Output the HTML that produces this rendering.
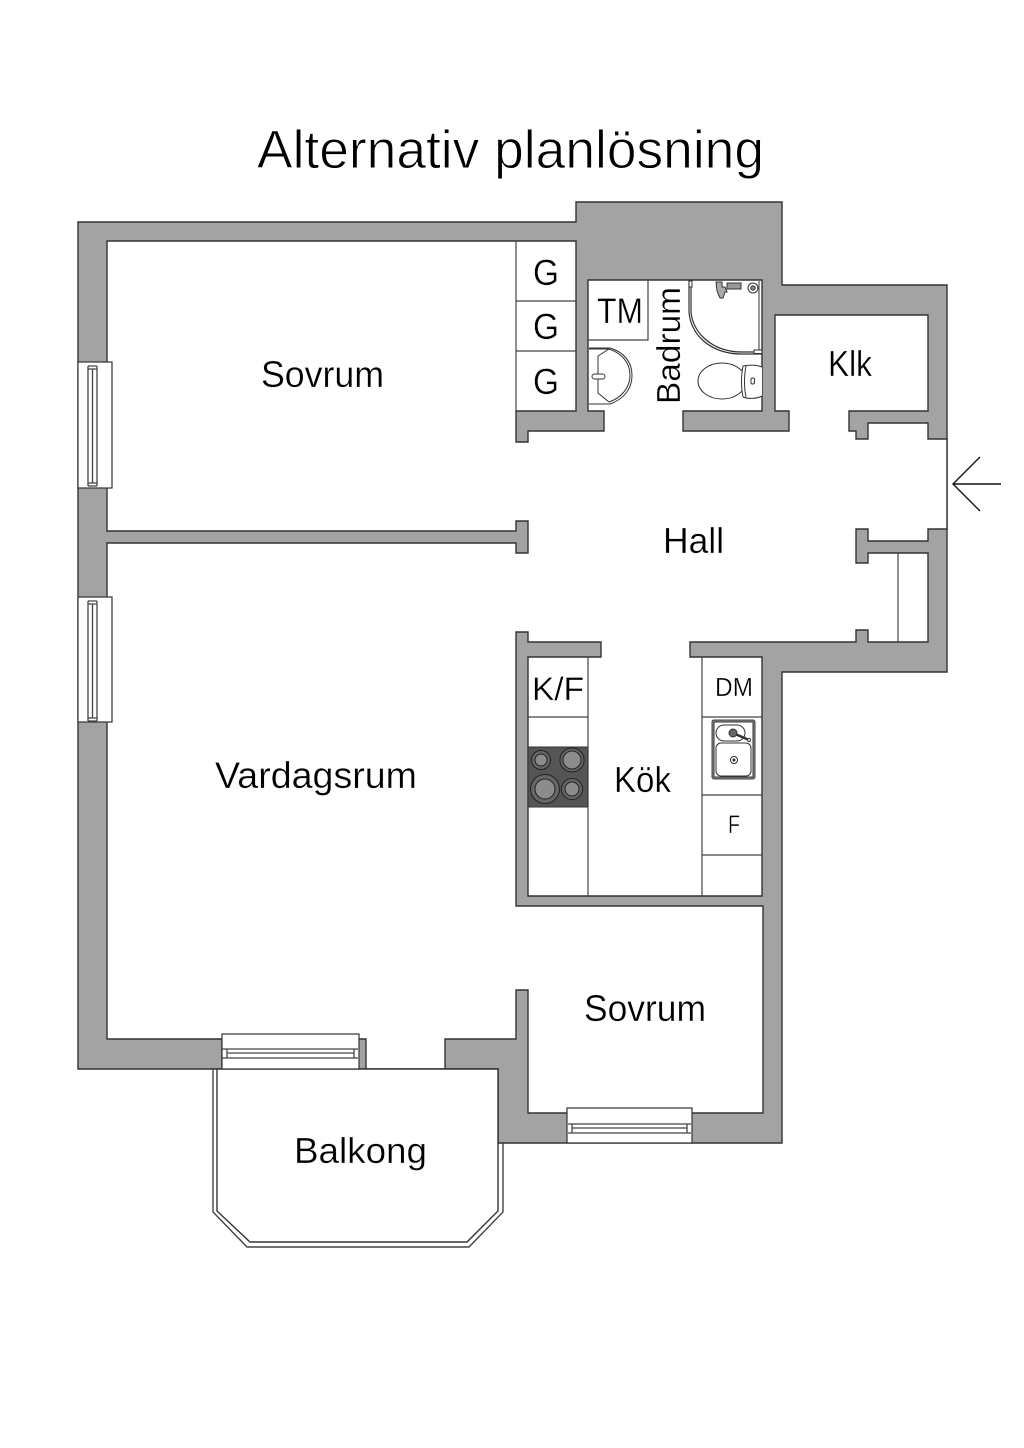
<!DOCTYPE html>
<html><head><meta charset="utf-8"><style>
html,body{margin:0;padding:0;background:#fff}
svg{display:block}
text{font-family:"Liberation Sans",sans-serif;fill:#000;stroke:#fff;stroke-width:.3}
</style></head><body>
<svg width="1024" height="1448" viewBox="0 0 1024 1448" xmlns="http://www.w3.org/2000/svg">
<rect width="1024" height="1448" fill="#fff" style="stroke:none"/>
<!-- Balcony -->
<path d="M213,1069V1212L247,1247H469L503,1212V1143" fill="#fff" stroke="#444" stroke-width="1.4"/>
<!-- Outer walls -->
<path d="M78,222H576V202H782V285H947V672H782V1143H498V1069H78Z" fill="#a3a3a3" stroke="#333" stroke-width="1.4"/>
<!-- Interior -->
<path d="M107,241H576V411H516V442H528V431H604V411H588V280H762V411H683V431H789V411H775V315H928V411H849V431H856V439H868V423H928V439H947V529H928V541H868V529H856V563H868V553H928V642H868V630H856V642H690V657H762V896H528V657H601V642H528V632H516V906H763V1113H528V990H516V1039H445V1069H366V1039H358V1069H222V1039H107Z" fill="#fff" stroke="#333" stroke-width="1.4"/>
<!-- Balcony inner -->
<path d="M217,1069H498V1211L467,1242H250L217,1211Z" fill="#fff" stroke="#333" stroke-width="1.4"/>
<!-- Partition -->
<path d="M107,531H516V521H528V553H516V543H107" fill="#a3a3a3" stroke="#333" stroke-width="1.4"/>
<rect x="105" y="532" width="6" height="10" fill="#a3a3a3"/>
<!-- Closets -->
<g stroke="#444" stroke-width="1.2" fill="none">
<path d="M516,241V411M516,301H576M516,351H576"/>
<path d="M648,280V340H588"/>
<path d="M898,553V642"/>
<path d="M588,657V896M702,657V896M528,717H588M702,717H762M702,795H762M702,855H762"/>
</g>
<!-- Windows -->
<g fill="#fff" stroke="#333" stroke-width="1.2">
<rect x="78" y="362" width="34" height="126"/>
<path d="M88,366V486M97,366V486M92.500,369V483M88,366H97M88,369H97M88,483H97M88,486H97" fill="none" stroke="#444" stroke-width="1.3"/>
<rect x="78" y="597" width="34" height="125"/>
<path d="M88,601V721M97,601V721M92.500,604V718M88,601H97M88,604H97M88,718H97M88,721H97" fill="none" stroke="#444" stroke-width="1.3"/>
<rect x="222" y="1034" width="137" height="35"/>
<path d="M222,1049H358M222,1058H358M227,1053H354M227,1049V1058M354,1049V1058" fill="none" stroke="#444" stroke-width="1.3"/>
<rect x="567" y="1108" width="125" height="35"/>
<path d="M568,1124H691M568,1133H691M572,1128H687M572,1124V1133M687,1124V1133" fill="none" stroke="#444" stroke-width="1.3"/>
</g>
<!-- Stove -->
<rect x="528" y="747" width="60" height="60" fill="#555" stroke="#333"/>
<g stroke="#222" stroke-width="1">
<circle cx="541" cy="760" r="9.500" fill="#666"/><circle cx="541" cy="760" r="6" fill="#8c8c8c"/>
<circle cx="572" cy="760" r="12" fill="#666"/><circle cx="572" cy="760" r="9" fill="#8c8c8c"/>
<circle cx="545" cy="789" r="14.500" fill="#666"/><circle cx="545" cy="789" r="10" fill="#8c8c8c"/>
<circle cx="572" cy="789" r="10.500" fill="#666"/><circle cx="572" cy="789" r="7" fill="#8c8c8c"/>
</g>
<!-- Kitchen sink -->
<g fill="#fff" stroke="#333" stroke-width="1">
<rect x="712" y="720" width="43" height="59" rx="2" fill="#888" stroke="#444" stroke-width="1"/>
<rect x="714" y="722" width="39" height="55" fill="#fff"/>
<rect x="716" y="725" width="29" height="16" rx="8"/>
<rect x="716" y="743" width="35" height="33" rx="5"/>
<circle cx="734" cy="760" r="3.500"/><circle cx="734" cy="760" r="1" fill="#222"/>
<path d="M733,733L749,740" stroke="#333" stroke-width="2.400"/>
<circle cx="733" cy="733" r="4" fill="#666"/><circle cx="749" cy="740" r="1.500"/>
</g>
<!-- Bath fixtures -->
<g fill="none" stroke="#333" stroke-width="1">
<path d="M589,348H610C624,352 632,362 632,375C632,389 624,399 610,404H589"/>
<path d="M589,349H609C621,353 630,362 630,375C630,388 621,398 609,402"/>
<path d="M609,349L598,356V393L609,402"/>
<rect x="592" y="374" width="13" height="5" rx="2.500" fill="#fff"/>
<path d="M691,281V310C691,330 710,352 742,352H762" stroke-width="1.200"/>
<path d="M689,281V310C689,332 708,354 742,354H762" stroke-width="1.200"/>
<path d="M759,281V352"/>
<rect x="689" y="281" width="3" height="6" fill="#fff"/>
<rect x="754" y="350" width="8" height="3.500" fill="#fff"/>
<path d="M716,282h6v5h3l2,5h-2l-2,6h-3l-3,-7z" fill="#aaa"/>
<rect x="727" y="283" width="14" height="6" fill="#999"/>
<circle cx="753" cy="288" r="5"/><circle cx="753" cy="288" r="2.200" fill="#888"/>
<ellipse cx="722" cy="381" rx="24" ry="18"/>
<path d="M762,367C755,364 748,365 743,366C741,376 741,388 743,397C748,399 756,399 762,396" fill="#fff"/>
<path d="M746,366C744,376 744,388 746,397"/>
<rect x="751" y="378" width="3.500" height="6" rx="1.500"/>
</g>
<!-- Arrow -->
<path d="M980,457L953,484L980,511M953,484H1001" fill="none" stroke="#111" stroke-width="1.400"/>
<!-- Text -->
<text x="257" y="168" font-size="54" textLength="507" lengthAdjust="spacingAndGlyphs" style="stroke-width:.9">Alternativ planlösning</text>
<text x="261" y="387" font-size="37" textLength="123" lengthAdjust="spacingAndGlyphs">Sovrum</text>
<text x="663" y="553" font-size="36" textLength="61" lengthAdjust="spacingAndGlyphs">Hall</text>
<text x="828" y="376" font-size="36" textLength="44" lengthAdjust="spacingAndGlyphs">Klk</text>
<text x="215" y="788" font-size="37" textLength="202" lengthAdjust="spacingAndGlyphs">Vardagsrum</text>
<text x="614" y="792" font-size="36" textLength="57" lengthAdjust="spacingAndGlyphs">Kök</text>
<text x="584" y="1021" font-size="37" textLength="122" lengthAdjust="spacingAndGlyphs">Sovrum</text>
<text x="294" y="1163" font-size="36" textLength="133" lengthAdjust="spacingAndGlyphs">Balkong</text>
<text x="533" y="285" font-size="36" textLength="26" lengthAdjust="spacingAndGlyphs">G</text>
<text x="533" y="339" font-size="36" textLength="26" lengthAdjust="spacingAndGlyphs">G</text>
<text x="533" y="394" font-size="36" textLength="26" lengthAdjust="spacingAndGlyphs">G</text>
<text x="597" y="323" font-size="35" textLength="46" lengthAdjust="spacingAndGlyphs">TM</text>
<text x="532" y="700" font-size="32" textLength="52" lengthAdjust="spacingAndGlyphs">K/F</text>
<text x="715" y="696" font-size="26" textLength="38" lengthAdjust="spacingAndGlyphs">DM</text>
<text x="728" y="833" font-size="25" textLength="12" lengthAdjust="spacingAndGlyphs">F</text>
<text transform="translate(680,404) rotate(-90)" font-size="33" textLength="117" lengthAdjust="spacingAndGlyphs">Badrum</text>
</svg>
</body></html>
